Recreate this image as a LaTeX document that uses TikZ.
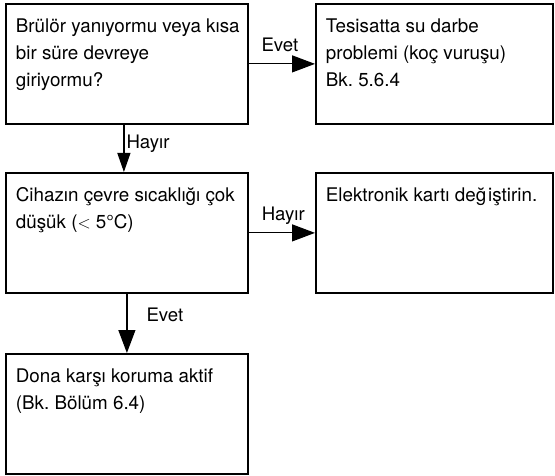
\documentclass[tikz,border=0pt]{standalone}
\usepackage{fontspec}
\setmainfont{TeX Gyre Heros}
\usetikzlibrary{arrows.meta, positioning}
\newcommand{\boxtext}[2]{\makebox[#1][l]{\parbox[t][102pt][t]{260pt}{\frenchspacing\strut #2}}}

\begin{document}
\begin{tikzpicture}[x=1pt, y=-1pt,
    stepbox/.style={draw, line width=1.8pt, anchor=north west,
                    inner xsep=10pt, inner ysep=9pt,
                    font=\fontsize{18.8}{27.3}\selectfont},
    flow/.style={-{Triangle[length=23pt,width=17pt]}, line width=1.2pt},
    lbl/.style={font=\fontsize{18.6}{20}\selectfont, inner sep=0pt}]
  \useasboundingbox (0,0) rectangle (555,476);
  % Boxes
  \node[stepbox] (burner) at (5,3)
    {\boxtext{222pt}{Brülör yanıyormu veya kısa\\bir süre devreye\\giriyormu?}};
  \node[stepbox] (water) at (315,3)
    {\boxtext{217pt}{Tesisatta su darbe\\problemi (koç vuruşu)\\Bk. 5.6.4}};
  \node[stepbox] (ambient) at (5,172)
    {\boxtext{222pt}{Cihazın çevre sıcaklığı çok\\düşük ($<$ 5°C)}};
  \node[stepbox] (board) at (315,172)
    {\boxtext{217pt}{Elektronik kartı değ\kern2pt iştirin.}};
  \node[stepbox] (frost) at (5,353)
    {\boxtext{222pt}{Dona karşı koruma aktif\\(Bk. Bölüm 6.4)}};
  % Connectors
  \draw[flow] (burner) -- (water)
    node[lbl, pos=0.47, anchor=base, yshift=12pt] (yes1) {Evet};
  \draw[flow, -{Triangle[length=19pt,width=13pt]}] ([xshift=-3pt]burner.south) -- ([xshift=-3pt]ambient.north)
    node[lbl, pos=0.51, anchor=base west, xshift=2pt] (no1) {Hayır};
  \draw[flow] (ambient) -- (board)
    node[lbl, pos=0.52, anchor=base, yshift=12pt] (no2) {Hayır};
  \draw[flow] (ambient) -- (frost)
    node[lbl, pos=0.47, anchor=base west, xshift=19pt] (yes2) {Evet};
\end{tikzpicture}
\end{document}
